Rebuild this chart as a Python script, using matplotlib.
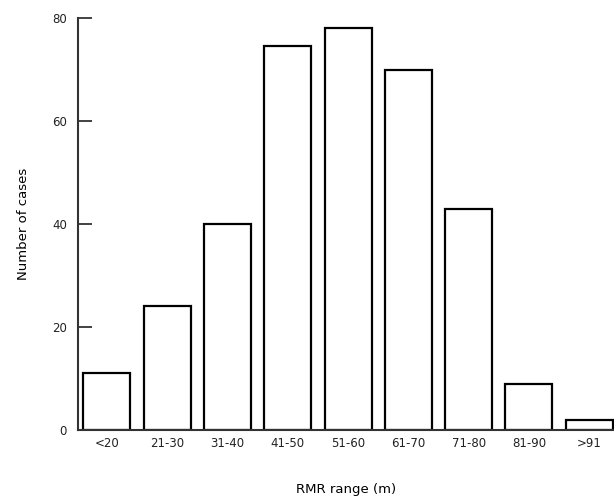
import numpy as np
import matplotlib
matplotlib.use("Agg")
import matplotlib.pyplot as plt

# RMR classes and number of cases
rmr_ranges = ["<20", "21-30", "31-40", "41-50", "51-60", "61-70", "71-80", "81-90", ">91"]
cases = [11, 24, 40, 74.5, 78, 70, 43, 9, 2]
y_ticks = [0, 20, 40, 60, 80]

fig = plt.figure(figsize=(6.14, 5.03), dpi=100)
ax = fig.add_axes([0.127, 0.145, 0.873, 0.819])

x = np.arange(len(rmr_ranges))
ax.bar(x, cases, width=0.78, color="white", edgecolor="black", linewidth=1.6)

ax.set_xlim(-0.48, 8.41)
ax.set_ylim(0, 80)
ax.set_yticks(y_ticks)
ax.set_xticks(x)
ax.set_xticklabels(rmr_ranges)

ax.spines["top"].set_visible(False)
ax.spines["right"].set_visible(False)
ax.spines["left"].set_linewidth(1.5)
ax.spines["bottom"].set_linewidth(1.5)
ax.spines["left"].set_color("#333333")
ax.spines["bottom"].set_color("#333333")

ax.tick_params(axis="y", direction="in", length=10, width=1.2, pad=8,
               labelsize=8.5, colors="#222222")
ax.tick_params(axis="x", length=0, pad=5, labelsize=8.5, colors="#222222")

ax.set_ylabel("Number of cases", fontsize=9.5, labelpad=16)
ax.set_xlabel("RMR range (m)", fontsize=9.5, labelpad=24)

plt.savefig("out.png", dpi=100)
